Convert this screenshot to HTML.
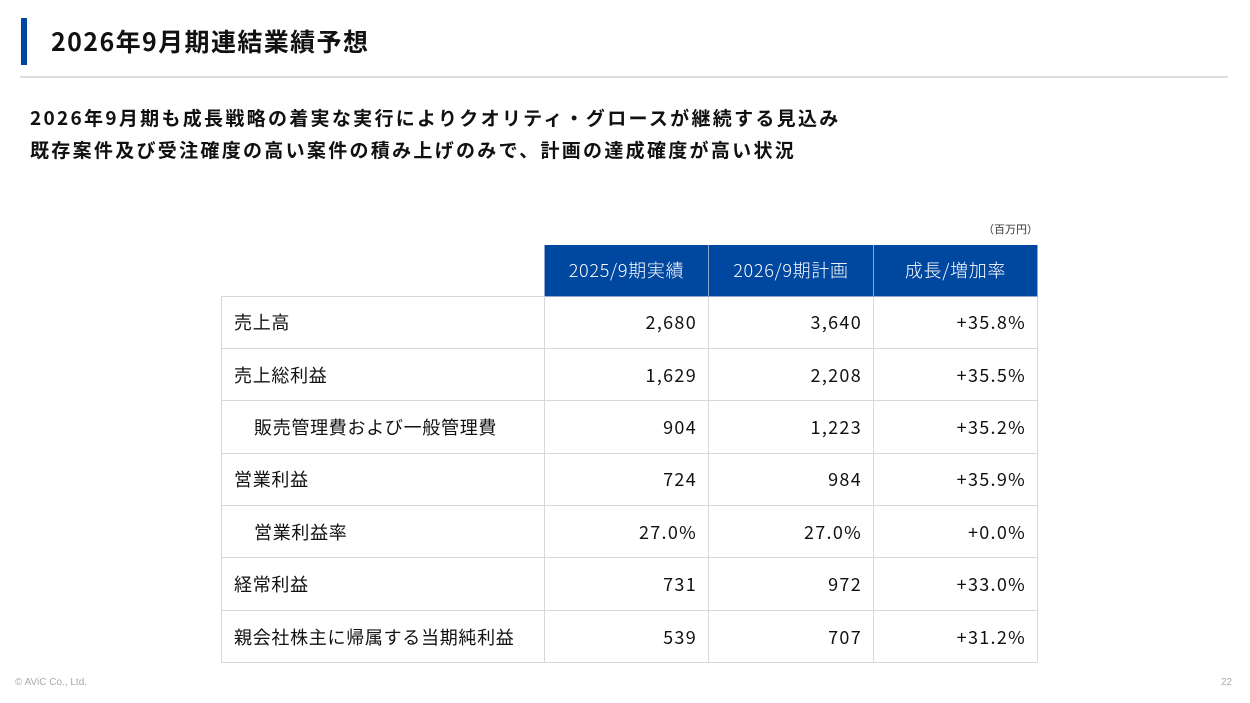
<!DOCTYPE html>
<html><head><meta charset="utf-8"><style>
body{margin:0;width:1250px;height:703px;background:#fff;position:relative;overflow:hidden;font-family:"Noto Sans CJK JP","Liberation Sans",sans-serif;color:#111}
.bar{position:absolute;left:21px;top:18px;width:6px;height:47px;background:#0047a0}
.title{position:absolute;left:51px;top:23px;font-size:25px;font-weight:bold;line-height:36px;letter-spacing:1.4px}
.hr{position:absolute;left:20px;top:76px;width:1208px;height:2px;background:#ddd}
.sub{position:absolute;left:30px;top:102px;font-size:19px;font-weight:bold;line-height:32px;letter-spacing:2.3px}
.unit{position:absolute;left:983px;top:221px;font-size:11px;color:#333}
table{position:absolute;left:221px;top:245px;border-collapse:collapse;font-size:18px;letter-spacing:0.7px}
td{border:1px solid #d8d8d8;height:52.4px;padding:0 12px;box-sizing:border-box;line-height:20px;font-weight:400}
th{background:#0047a0;color:#fff;height:51px;border:1px solid #8fa8d0;border-top:none;font-size:18px;box-sizing:border-box;font-weight:300}
td.n{text-align:right;letter-spacing:1.3px;padding-right:11px}
.foot{position:absolute;top:677px;font-size:10px;color:#aaa;font-family:"Liberation Sans",sans-serif}
</style></head><body>
<div class="bar"></div>
<div class="title">2026年9月期連結業績予想</div>
<div class="hr"></div>
<div class="sub">2026年9月期も成長戦略の着実な実行によりクオリティ・グロースが継続する見込み<br>既存案件及び受注確度の高い案件の積み上げのみで、計画の達成確度が高い状況</div>
<div class="unit">（百万円）</div>
<table>
<colgroup><col style="width:323px"><col style="width:164px"><col style="width:165px"><col style="width:164px"></colgroup>
<tr><th style="background:#fff;border:none;border-bottom:1px solid #d8d8d8"></th><th>2025/9期実績</th><th>2026/9期計画</th><th>成長/増加率</th></tr>
<tr><td>売上高</td><td class="n">2,680</td><td class="n">3,640</td><td class="n">+35.8%</td></tr>
<tr><td>売上総利益</td><td class="n">1,629</td><td class="n">2,208</td><td class="n">+35.5%</td></tr>
<tr><td style="padding-left:32px">販売管理費および一般管理費</td><td class="n">904</td><td class="n">1,223</td><td class="n">+35.2%</td></tr>
<tr><td>営業利益</td><td class="n">724</td><td class="n">984</td><td class="n">+35.9%</td></tr>
<tr><td style="padding-left:32px">営業利益率</td><td class="n">27.0%</td><td class="n">27.0%</td><td class="n">+0.0%</td></tr>
<tr><td>経常利益</td><td class="n">731</td><td class="n">972</td><td class="n">+33.0%</td></tr>
<tr><td>親会社株主に帰属する当期純利益</td><td class="n">539</td><td class="n">707</td><td class="n">+31.2%</td></tr>
</table>
<div class="foot" style="left:15px">© AViC Co., Ltd.</div>
<div class="foot" style="left:1221px">22</div>
</body></html>
